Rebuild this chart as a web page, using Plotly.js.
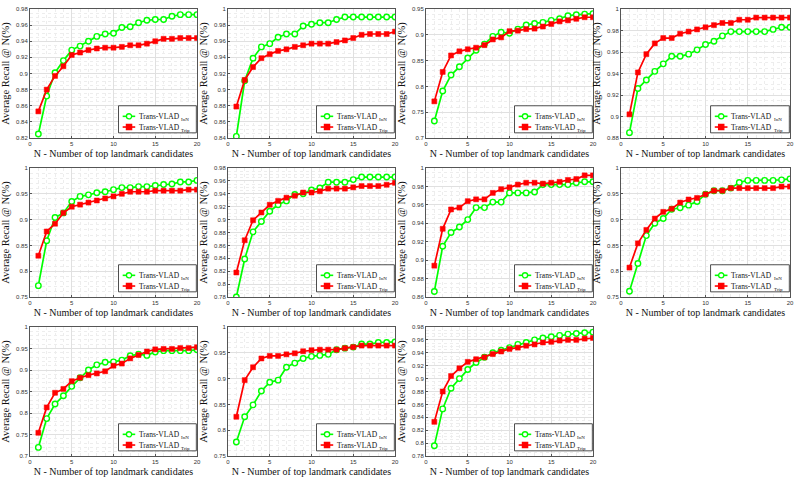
<!DOCTYPE html>
<html>
<head>
<meta charset="utf-8">
<script src="https://cdn.plot.ly/plotly-3.0.1.min.js"></script>
<style>
  html, body { margin: 0; padding: 0; background: #fff; }
  #chart { width: 800px; height: 481px; }
</style>
</head>
<body>
<div id="chart"></div>
<script>
// ----- data -----
const N = [1, 2, 3, 4, 5, 6, 7, 8, 9, 10, 11, 12, 13, 14, 15, 16, 17, 18, 19, 20];

const inn1  = [0.825,0.872,0.901,0.916,0.929,0.934,0.940,0.946,0.949,0.950,0.957,0.958,0.963,0.966,0.967,0.967,0.971,0.973,0.973,0.973];
const trip1 = [0.853,0.880,0.897,0.909,0.923,0.926,0.929,0.931,0.932,0.932,0.933,0.935,0.935,0.937,0.940,0.943,0.943,0.944,0.944,0.944];
const inn2  = [0.842,0.911,0.939,0.953,0.957,0.965,0.969,0.969,0.979,0.981,0.983,0.983,0.987,0.990,0.990,0.990,0.990,0.990,0.990,0.990];
const trip2 = [0.879,0.912,0.928,0.939,0.944,0.948,0.950,0.953,0.955,0.957,0.957,0.957,0.959,0.961,0.964,0.968,0.969,0.969,0.969,0.972];
const inn3  = [0.733,0.791,0.822,0.838,0.855,0.870,0.882,0.897,0.905,0.903,0.911,0.919,0.922,0.924,0.928,0.931,0.937,0.939,0.940,0.941];
const trip3 = [0.771,0.828,0.860,0.868,0.872,0.875,0.880,0.891,0.895,0.907,0.908,0.911,0.912,0.916,0.921,0.926,0.928,0.931,0.934,0.934];
const inn4  = [0.885,0.926,0.934,0.942,0.949,0.956,0.956,0.958,0.962,0.967,0.970,0.975,0.979,0.979,0.979,0.979,0.979,0.981,0.983,0.983];
const trip4 = [0.902,0.941,0.958,0.968,0.973,0.973,0.977,0.979,0.981,0.983,0.985,0.987,0.987,0.990,0.990,0.992,0.992,0.992,0.992,0.992];
const inn5  = [0.772,0.859,0.904,0.913,0.935,0.945,0.948,0.952,0.954,0.958,0.962,0.962,0.964,0.964,0.966,0.968,0.969,0.973,0.973,0.976];
const trip5 = [0.830,0.877,0.892,0.913,0.925,0.929,0.933,0.937,0.941,0.945,0.950,0.954,0.954,0.954,0.956,0.956,0.956,0.956,0.958,0.958];
const inn6  = [0.780,0.839,0.881,0.897,0.913,0.923,0.929,0.939,0.940,0.946,0.949,0.958,0.958,0.958,0.962,0.966,0.966,0.966,0.966,0.966];
const trip6 = [0.818,0.868,0.899,0.911,0.923,0.929,0.934,0.937,0.942,0.942,0.944,0.948,0.948,0.948,0.950,0.952,0.952,0.952,0.954,0.957];
const inn7  = [0.866,0.915,0.930,0.936,0.944,0.957,0.957,0.963,0.963,0.973,0.973,0.973,0.974,0.982,0.982,0.982,0.982,0.984,0.985,0.985];
const trip7 = [0.894,0.934,0.955,0.957,0.964,0.966,0.966,0.973,0.977,0.979,0.982,0.984,0.984,0.983,0.984,0.985,0.987,0.988,0.992,0.992];
const inn8  = [0.761,0.815,0.869,0.893,0.902,0.920,0.923,0.928,0.935,0.949,0.956,0.956,0.961,0.972,0.976,0.976,0.976,0.976,0.977,0.979];
const trip8 = [0.807,0.854,0.880,0.902,0.915,0.921,0.933,0.939,0.942,0.949,0.956,0.956,0.961,0.961,0.961,0.961,0.961,0.961,0.964,0.964];
const inn9  = [0.720,0.787,0.821,0.840,0.862,0.882,0.900,0.912,0.918,0.919,0.923,0.933,0.937,0.934,0.942,0.945,0.945,0.945,0.945,0.947];
const trip9 = [0.754,0.813,0.847,0.856,0.874,0.882,0.888,0.892,0.897,0.910,0.915,0.927,0.935,0.943,0.948,0.949,0.949,0.951,0.951,0.953];
const inn10  = [0.777,0.826,0.849,0.876,0.893,0.897,0.922,0.930,0.939,0.943,0.945,0.947,0.956,0.959,0.961,0.967,0.967,0.970,0.970,0.971];
const trip10 = [0.826,0.897,0.922,0.939,0.944,0.944,0.947,0.949,0.953,0.955,0.956,0.956,0.956,0.959,0.961,0.964,0.964,0.964,0.964,0.964];
const inn11  = [0.796,0.853,0.885,0.900,0.914,0.925,0.933,0.940,0.944,0.948,0.953,0.956,0.960,0.963,0.965,0.967,0.969,0.970,0.971,0.972];
const trip11 = [0.833,0.880,0.904,0.916,0.926,0.930,0.933,0.938,0.942,0.946,0.948,0.951,0.953,0.956,0.957,0.959,0.960,0.960,0.962,0.963];

const innSeries  = [inn1, inn2, inn3, inn4, inn5, inn6, inn7, inn8, inn9, inn10, inn11];
const tripSeries = [trip1, trip2, trip3, trip4, trip5, trip6, trip7, trip8, trip9, trip10, trip11];

// y axis limits and tick step per panel
const yRanges = [[0.82,0.98],[0.84,1],[0.7,0.95],[0.88,1],[0.75,1],[0.78,0.98],[0.86,1],[0.75,1],[0.7,1],[0.75,1],[0.78,0.98]];
const yDticks = [0.02, 0.02, 0.05, 0.02, 0.05, 0.02, 0.02, 0.05, 0.05, 0.05, 0.02];

const seriesLabel = "Trans-VLAD";
const seriesSubs  = ["InN", "Trip"];
const GREEN = "#00ff00", RED = "#ff0000";

// ----- grid geometry (pixels in the 800x481 frame) -----
const W = 800, H = 481;
const colLeft  = [30, 228, 426, 621];
const colRight = [197, 395, 593, 790];
const rowTop    = [9, 168, 327];
const rowBottom = [138, 297, 456];

const serif = "Liberation Serif, Times New Roman, serif";
const sans  = "Liberation Sans, Arial, sans-serif";

const traces = [];
const shapes = [];
const annotations = [];
const layout = {
  width: W, height: H,
  margin: { l: 0, r: 0, t: 0, b: 0 },
  paper_bgcolor: "#fff",
  plot_bgcolor: "#fff",
  showlegend: false
};

// MATLAB-style legend box in the lower right of each panel
function addLegend(sfx) {
  const xr = "x" + sfx + " domain", yr = "y" + sfx + " domain";
  shapes.push({
    type: "rect", xref: xr, yref: yr, layer: "above",
    x0: 0.53, x1: 0.996, y0: 0.04, y1: 0.25,
    fillcolor: "#fff", line: { color: "#222", width: 0.8 }
  });
  const rows = [
    { y: 0.168, color: GREEN, sym: "circle", fill: "#fff", sub: seriesSubs[0] },
    { y: 0.085, color: RED,   sym: "rect",   fill: RED,    sub: seriesSubs[1] }
  ];
  rows.forEach(r => {
    shapes.push({
      type: "line", xref: xr, yref: yr, layer: "above",
      x0: 0.555, x1: 0.63, y0: r.y, y1: r.y,
      line: { color: r.color, width: 1.6 }
    });
    shapes.push({
      type: r.sym, xref: xr, yref: yr, layer: "above",
      xsizemode: "pixel", ysizemode: "pixel", xanchor: 0.593, yanchor: r.y,
      x0: -2.6, x1: 2.6, y0: -2.6, y1: 2.6,
      fillcolor: r.fill, line: { color: r.color, width: 1.3 }
    });
    annotations.push({
      xref: xr, yref: yr, x: 0.64, y: r.y, xanchor: "left", yanchor: "middle",
      text: seriesLabel, showarrow: false,
      font: { family: serif, size: 7.5, color: "#111" }
    });
    annotations.push({
      xref: xr, yref: yr, x: 0.895, y: r.y, xanchor: "left", yanchor: "middle",
      yshift: -3, text: r.sub, showarrow: false,
      font: { family: serif, size: 5, color: "#111" }
    });
  });
}

innSeries.forEach((inn, i) => {
  const k = i + 1;
  const sfx = k === 1 ? "" : String(k);
  const row = Math.floor(i / 4), col = i % 4;
  const xd = [colLeft[col] / W, colRight[col] / W];
  const yd = [1 - rowBottom[row] / H, 1 - rowTop[row] / H];

  traces.push({
    type: "scatter", mode: "lines+markers",
    x: N, y: inn,
    xaxis: "x" + sfx, yaxis: "y" + sfx,
    name: seriesLabel + " " + seriesSubs[0],
    line: { color: GREEN, width: 1.7 },
    marker: { symbol: "circle", size: 5.5, color: "#ffffff", line: { color: GREEN, width: 1.4 } }
  });
  traces.push({
    type: "scatter", mode: "lines+markers",
    x: N, y: tripSeries[i],
    xaxis: "x" + sfx, yaxis: "y" + sfx,
    name: seriesLabel + " " + seriesSubs[1],
    line: { color: RED, width: 1.7 },
    marker: { symbol: "square", size: 5, color: RED, line: { color: RED, width: 0.5 } }
  });

  const axisCommon = {
    showline: true, mirror: true, linecolor: "#555", linewidth: 1,
    ticks: "inside", ticklen: 2, tickcolor: "#555",
    showgrid: true, gridcolor: "#e0e0e0", gridwidth: 1,
    zeroline: false,
    tickfont: { family: sans, size: 6, color: "#333" },
    fixedrange: true
  };

  layout["xaxis" + sfx] = {
    ...axisCommon,
    domain: xd, anchor: "y" + sfx,
    range: [0, 20], tick0: 0, dtick: 5,
    minor: { dtick: 1, showgrid: true, gridcolor: "#ededed", griddash: "dot" },
    title: { text: "N - Number of top landmark candidates", font: { family: serif, size: 10, color: "#111" }, standoff: 3 }
  };
  layout["yaxis" + sfx] = {
    ...axisCommon,
    domain: yd, anchor: "x" + sfx,
    range: yRanges[i], tick0: 0, dtick: yDticks[i],
    minor: { nticks: 5, showgrid: true, gridcolor: "#ededed", griddash: "dot" },
    title: { text: "Average Recall @ N(%)", font: { family: serif, size: 10.5, color: "#111" }, standoff: 4 }
  };

  addLegend(sfx);
});

layout.shapes = shapes;
layout.annotations = annotations;

Plotly.newPlot("chart", traces, layout, { displayModeBar: false, staticPlot: true });
</script>
</body>
</html>
